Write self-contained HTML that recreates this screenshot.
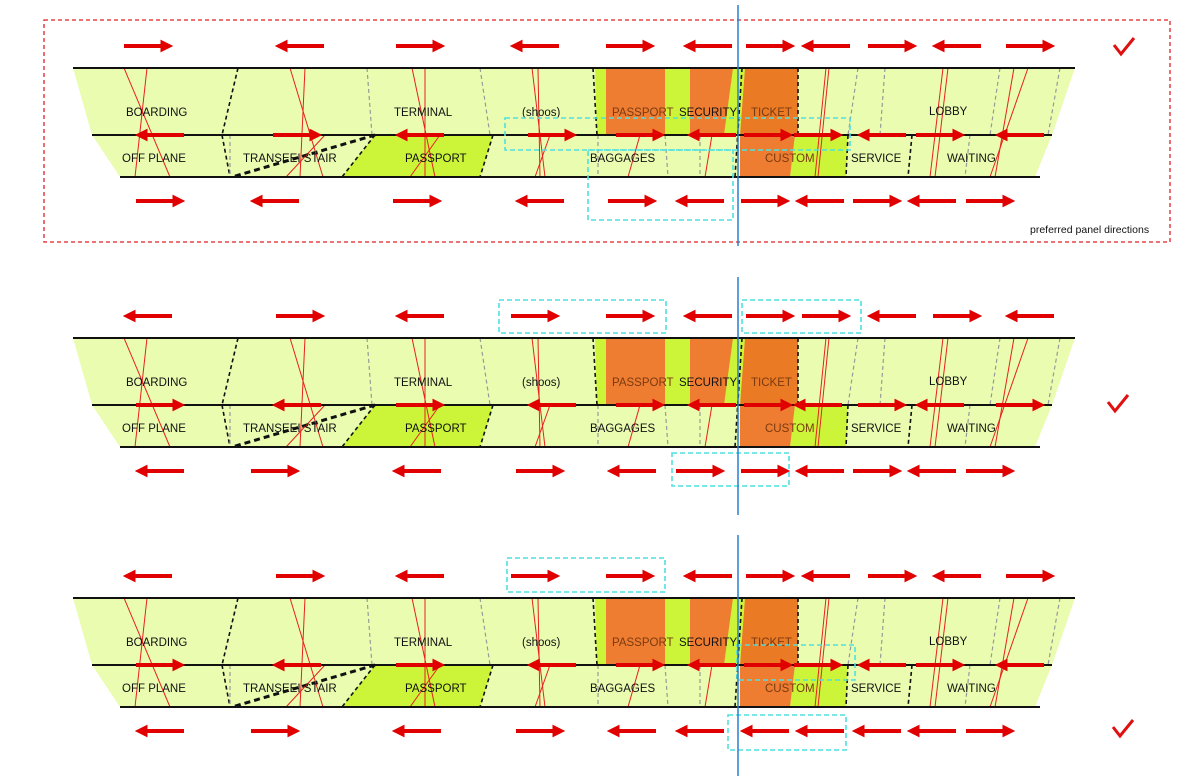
<!DOCTYPE html>
<html><head><meta charset="utf-8"><style>
html,body{margin:0;padding:0;background:#fff}
svg{display:block}
text{font-family:"Liberation Sans",sans-serif;font-size:11.5px;fill:#111}
</style></head><body>
<svg id="s" width="1200" height="776" viewBox="0 0 1200 776" xmlns="http://www.w3.org/2000/svg">
<defs>
<marker id="ah" viewBox="0 0 10 10" refX="2" refY="5" markerWidth="3.2" markerHeight="3.2" orient="auto-start-reverse" markerUnits="strokeWidth"><path d="M0,0 L10,5 L0,10z" fill="#e00000"/></marker>
</defs>
<g id="bg"></g>
<g id="t0" transform="translate(0,0)">
<text x="126" y="116">BOARDING</text><text x="394" y="116">TERMINAL</text><text x="522" y="116">(shoos)</text>
<text x="612" y="116" fill="#7a3a10" style="fill:#7a3a10">PASSPORT</text><text x="679" y="116">SECURITY</text><text x="751" y="116" style="fill:#7a3a10">TICKET</text><text x="929" y="115">LOBBY</text>
<text x="122" y="162">OFF PLANE</text><text x="243" y="162">TRANSEEI STAIR</text><text x="405" y="162">PASSPORT</text><text x="590" y="162">BAGGAGES</text><text x="765" y="162" style="fill:#7a3a10">CUSTOM</text><text x="851" y="162">SERVICE</text><text x="947" y="162">WAITING</text>
</g>
<g transform="translate(0,270)">
<text x="126" y="116">BOARDING</text><text x="394" y="116">TERMINAL</text><text x="522" y="116">(shoos)</text>
<text x="612" y="116" style="fill:#7a3a10">PASSPORT</text><text x="679" y="116">SECURITY</text><text x="751" y="116" style="fill:#7a3a10">TICKET</text><text x="929" y="115">LOBBY</text>
<text x="122" y="162">OFF PLANE</text><text x="243" y="162">TRANSEEI STAIR</text><text x="405" y="162">PASSPORT</text><text x="590" y="162">BAGGAGES</text><text x="765" y="162" style="fill:#7a3a10">CUSTOM</text><text x="851" y="162">SERVICE</text><text x="947" y="162">WAITING</text>
</g>
<g transform="translate(0,530)">
<text x="126" y="116">BOARDING</text><text x="394" y="116">TERMINAL</text><text x="522" y="116">(shoos)</text>
<text x="612" y="116" style="fill:#7a3a10">PASSPORT</text><text x="679" y="116">SECURITY</text><text x="751" y="116" style="fill:#7a3a10">TICKET</text><text x="929" y="115">LOBBY</text>
<text x="122" y="162">OFF PLANE</text><text x="243" y="162">TRANSEEI STAIR</text><text x="405" y="162">PASSPORT</text><text x="590" y="162">BAGGAGES</text><text x="765" y="162" style="fill:#7a3a10">CUSTOM</text><text x="851" y="162">SERVICE</text><text x="947" y="162">WAITING</text>
</g>
<text x="1030" y="233" style="font-size:10.5px">preferred panel directions</text>
<g id="fg"></g>
</svg>
<script>
const NS="http://www.w3.org/2000/svg";
const bg=document.getElementById('bg'),fg=document.getElementById('fg');
function el(p,t,a){const e=document.createElementNS(NS,t);for(const k in a)e.setAttribute(k,a[k]);p.appendChild(e);return e;}
const offs=[0,270,530];
const rows={
 top:[[148,1,-1,-1],[300,-1,1,1],[420,1,-1,-1],[535,-1,1,1],[630,1,1,1],[708,-1,-1,-1],[770,1,1,1],[826,-1,1,-1],[892,1,-1,1],[957,-1,1,-1],[1030,1,-1,1]],
 mid:[[160,-1,1,1],[297,1,-1,-1],[420,-1,1,1],[552,1,-1,-1],[640,1,1,1],[712,-1,-1,-1],[768,1,1,1],[818,1,-1,1],[882,-1,1,-1],[940,1,-1,1],[1020,-1,1,-1]],
 bot:[[160,1,-1,-1],[275,-1,1,1],[417,1,-1,-1],[540,-1,1,1],[632,1,-1,-1],[700,-1,1,-1],[765,1,1,-1],[820,-1,-1,-1],[877,1,1,-1],[932,-1,-1,-1],[990,1,1,1]]
};
const ry={top:46,mid:135,bot:201};
offs.forEach((o,pi)=>{
 const g=el(bg,'g',{transform:`translate(0,${o})`});
 el(g,'polygon',{points:"73,68 1075,68 1052,135 1035,177 120,177 92,135",fill:"#eafcb0"});
 el(g,'polygon',{points:"375,135 493,135 480,177 342,177",fill:"#ccf53a"});
 el(g,'polygon',{points:"595,68 745,68 740,135 597,135",fill:"#ccf53a"});
 el(g,'polygon',{points:"795,135 848,135 846,177 790,177",fill:"#ccf53a"});
 el(g,'polygon',{points:"606,68 665,68 665,135 606,135",fill:"#ee7d32"});
 el(g,'polygon',{points:"690,68 733,68 724,135 690,135",fill:"#ee7d32"});
 el(g,'polygon',{points:"745,68 798,68 798,135 740,135",fill:"#ea7a24"});
 el(g,'polygon',{points:"740,135 795,135 790,177 740,177",fill:"#ee7d32"});
 const dl=(x1,y1,x2,y2,c,w,d)=>el(g,'line',{x1,y1,x2,y2,stroke:c,'stroke-width':w,'stroke-dasharray':d});
 [[238,68,222,135],[222,135,230,177],[593,68,597,135],[493,135,480,177],[375,135,342,177],[742,68,735,177],[798,68,798,135],[848,135,846,177],[912,135,908,177]].forEach(a=>dl(...a,'#111',1.6,'4,3'));
 dl(375,135,232,177,'#111',3,'6,4');
 [[367,68,372,135],[480,68,490,135],[665,135,668,177],[858,68,848,135],[885,68,880,135],[1000,68,990,135],[970,135,965,177],[1060,68,1048,135],[230,135,230,177],[700,135,700,177],[598,135,598,177]].forEach(a=>dl(...a,'#999',1.2,'4,3'));
 [[124,68,170,177],[147,68,135,177],[290,68,323,177],[305,68,300,177],[325,135,286,177],[412,68,435,177],[425,68,425,177],[440,135,410,177],[532,68,545,177],[538,68,540,177],[550,135,535,177],[640,135,628,177],[712,135,705,177],[826,68,815,177],[829,68,818,177],[943,68,930,177],[948,68,935,177],[1014,68,995,177],[1028,68,990,177]].forEach(a=>dl(...a,'#e82020',1,'none'));
 el(g,'line',{x1:73,y1:68,x2:1075,y2:68,stroke:'#111','stroke-width':2});
 el(g,'line',{x1:92,y1:135,x2:1052,y2:135,stroke:'#111','stroke-width':2});
 el(g,'line',{x1:120,y1:177,x2:1040,y2:177,stroke:'#111','stroke-width':2});
 const ga=el(fg,'g',{transform:`translate(0,${o})`});
 for(const r in rows){rows[r].forEach(a=>{const c=a[0],d=a[1+pi],y=ry[r];
  el(ga,'line',{x1:c-d*24,y1:y,x2:c+d*15,y2:y,stroke:'#e00000','stroke-width':4,'marker-end':'url(#ah)'});});}
});
const cy=(x,y,w,h)=>el(fg,'rect',{x,y,width:w,height:h,fill:'none',stroke:'#4fe0e0','stroke-width':1.6,'stroke-dasharray':'5,3'});
cy(505,118,345,32);cy(588,150,145,70);
cy(499,300,167,33);cy(742,300,119,33);cy(672,453,117,33);
cy(507,558,158,34);cy(737,645,118,35);cy(728,715,118,35);
el(fg,'rect',{x:44,y:20,width:1126,height:222,fill:'none',stroke:'#e02020','stroke-width':1.3,'stroke-dasharray':'4,3'});
[[5,246],[277,515],[535,776]].forEach(a=>el(fg,'line',{x1:738,y1:a[0],x2:738,y2:a[1],stroke:'#2a7fd0','stroke-width':1.5}));
[[1124,48],[1118,405],[1123,730]].forEach(p=>el(fg,'path',{d:`M${p[0]-10},${p[1]-3} L${p[0]-3},${p[1]+6} L${p[0]+10},${p[1]-10}`,fill:'none',stroke:'#e01010','stroke-width':3}));
</script>
</body></html>
